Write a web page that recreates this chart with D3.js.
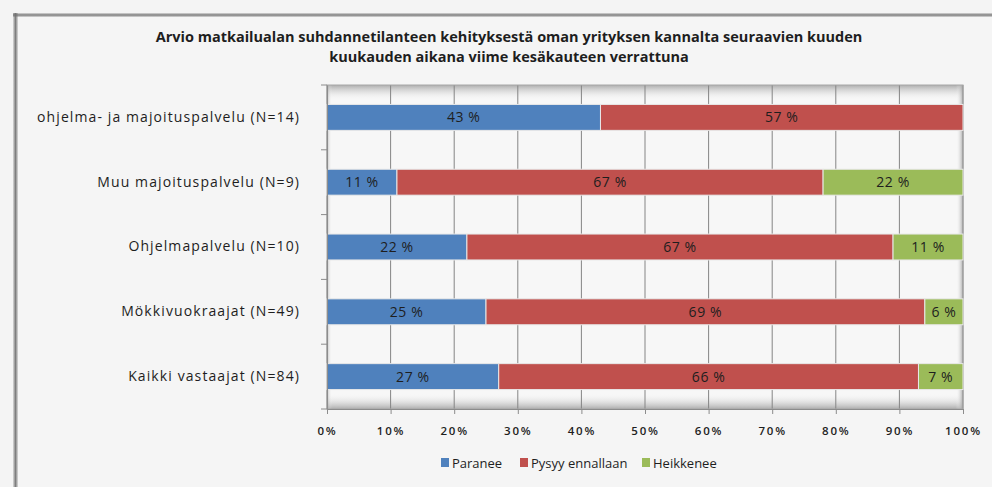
<!DOCTYPE html>
<html>
<head>
<meta charset="utf-8" />
<title>suhdannetilanne</title>
<script src="https://cdn.jsdelivr.net/npm/d3@7"></script>
<style>
  body { margin:0; background:#f4f4f4; }
  text { font-family:"Open Sans", sans-serif; fill:#1e1e1e; }
</style>
</head>
<body>
<svg width="992" height="487"></svg>
<script>
var categories = ["ohjelma- ja majoituspalvelu (N=14)", "Muu majoituspalvelu (N=9)", "Ohjelmapalvelu (N=10)", "Mökkivuokraajat (N=49)", "Kaikki vastaajat (N=84)"]
var paranee = [43, 11, 22, 25, 27]
var pysyy = [57, 67, 67, 69, 66]
var heikkenee = [0, 22, 11, 6, 7]
var seriesNames = ["Paranee", "Pysyy ennallaan", "Heikkenee"]
var colors = ["#4f81bd", "#c0504d", "#9bbb59"]
var xTicks = [0, 10, 20, 30, 40, 50, 60, 70, 80, 90, 100]
var titleLines = ["Arvio matkailualan suhdannetilanteen kehityksestä oman yrityksen kannalta seuraavien kuuden",
                  "kuukauden aikana viime kesäkauteen verrattuna"]

var svg = d3.select("svg")
var defs = svg.append("defs")

// varjoliukuvärit kehyksille
function grad(id, x1, y1, x2, y2, stops) {
  var g = defs.append("linearGradient").attr("id", id)
    .attr("x1", x1).attr("y1", y1).attr("x2", x2).attr("y2", y2)
  stops.forEach(s => g.append("stop").attr("offset", s[0]).attr("stop-color", s[1]).attr("stop-opacity", s[2]))
}
grad("shH", 0, 0, 1, 0, [[0, "#707070", 0.2], [0.5, "#707070", 0.9], [1, "#707070", 0.2]])
grad("shV", 0, 0, 0, 1, [[0, "#707070", 0.2], [0.5, "#707070", 0.9], [1, "#707070", 0.2]])
grad("inTop", 0, 0, 0, 1, [[0, "#9a9a9a", 0.8], [1, "#ffffff", 0]])
grad("inBot", 0, 1, 0, 0, [[0, "#9a9a9a", 0.8], [1, "#ffffff", 0]])
grad("inLeft", 0, 0, 1, 0, [[0, "#9a9a9a", 0.6], [1, "#ffffff", 0]])
grad("inRight", 1, 0, 0, 0, [[0, "#9a9a9a", 0.8], [1, "#ffffff", 0]])

// ulkokehys
svg.append("rect").attr("x", 15).attr("y", 15).attr("width", 990).attr("height", 490).attr("fill", "#f5f5f5")
svg.append("rect").attr("x", 13).attr("y", 13).attr("width", 5).attr("height", 480).attr("fill", "url(#shH)")
svg.append("rect").attr("x", 13).attr("y", 13).attr("width", 990).attr("height", 4).attr("fill", "url(#shV)")

// otsikko
svg.append("g").selectAll("text").data(titleLines).enter().append("text")
  .attr("x", 509).attr("y", (d, i) => 42 + i * 20)
  .attr("text-anchor", "middle").attr("font-size", "14.5px").attr("font-weight", "bold")
  .text(d => d)

var plot = {left:327, right:963, top:85, bottom:409}

var xScale = d3.scaleLinear().domain([0, 100]).range([plot.left, plot.right])
var yScale = d3.scaleBand().domain(categories).range([plot.top, plot.bottom]).paddingInner(0.6).paddingOuter(0.3)

// piirtoalueen tausta
var g = svg.append("g")
g.append("rect").attr("x", plot.left).attr("y", plot.top).attr("width", plot.right - plot.left).attr("height", plot.bottom - plot.top)
  .attr("fill", "#f7f7f7")
g.append("rect").attr("x", plot.left).attr("y", plot.top).attr("width", plot.right - plot.left).attr("height", 16).attr("fill", "url(#inTop)")
g.append("rect").attr("x", plot.left).attr("y", plot.bottom - 16).attr("width", plot.right - plot.left).attr("height", 16).attr("fill", "url(#inBot)")
g.append("rect").attr("x", plot.left).attr("y", plot.top).attr("width", 5).attr("height", plot.bottom - plot.top).attr("fill", "url(#inLeft)")
g.append("rect").attr("x", plot.right - 7).attr("y", plot.top).attr("width", 7).attr("height", plot.bottom - plot.top).attr("fill", "url(#inRight)")

// pystysuorat apuviivat
g.append("g").selectAll("line").data(xTicks).enter().append("line")
  .attr("x1", d => xScale(d)).attr("x2", d => xScale(d))
  .attr("y1", plot.top).attr("y2", plot.bottom)
  .attr("stroke", "#858585").attr("stroke-width", 1)

g.append("rect").attr("x", plot.left).attr("y", plot.top).attr("width", plot.right - plot.left).attr("height", plot.bottom - plot.top)
  .attr("fill", "none").attr("stroke", "#a8a8a8").attr("stroke-width", 1)

// pinotut pylväät
var rows = categories.map((c, i) => ({cat:c, Paranee:paranee[i], "Pysyy ennallaan":pysyy[i], Heikkenee:heikkenee[i]}))
var stacked = d3.stack().keys(seriesNames)(rows)

var layers = g.selectAll(".layer").data(stacked).enter().append("g")
  .attr("class", "layer").attr("fill", (d, i) => colors[i])

layers.selectAll("rect").data(d => d.filter(s => s[1] - s[0] > 0)).enter().append("rect")
  .attr("x", d => xScale(d[0]))
  .attr("y", d => yScale(d.data.cat))
  .attr("width", d => xScale(d[1]) - xScale(d[0]))
  .attr("height", yScale.bandwidth())
  .attr("stroke", "#e8e8e8").attr("stroke-width", 1)

layers.selectAll("text").data(d => d.filter(s => s[1] - s[0] > 0)).enter().append("text")
  .attr("x", d => (xScale(d[0]) + xScale(d[1])) / 2)
  .attr("y", d => yScale(d.data.cat) + yScale.bandwidth() / 2)
  .attr("dy", "0.36em")
  .attr("text-anchor", "middle").attr("font-size", "14px").attr("letter-spacing", "0.6px")
  .text(d => (d[1] - d[0]) + " %")

// x-akseli
var xAxis = d3.axisBottom(xScale).tickValues(xTicks).tickSize(5).tickFormat(d => d + "%")
var xg = g.append("g").attr("transform", `translate(0,${plot.bottom})`).call(xAxis)
xg.select(".domain").attr("stroke", "#8c8c8c")
xg.selectAll(".tick line").attr("stroke", "#8c8c8c")
xg.selectAll(".tick text").attr("y", 18).attr("font-size", "11.5px").attr("font-weight", "600")
  .attr("letter-spacing", "1.8px").style("font-family", "Open Sans, sans-serif").attr("fill", "#333")

// y-akseli
var yAxis = d3.axisLeft(yScale).tickSize(0).tickPadding(27)
var yg = g.append("g").attr("transform", `translate(${plot.left},0)`).call(yAxis)
yg.select(".domain").attr("stroke", "#8c8c8c")
yg.selectAll(".tick text").attr("font-size", "14px").attr("letter-spacing", "1.1px")
  .style("font-family", "Open Sans, sans-serif").attr("fill", "#1e1e1e")
var step = yScale.step()
var bounds = d3.range(categories.length + 1).map(i => plot.top + i * step)
yg.append("g").selectAll("line").data(bounds).enter().append("line")
  .attr("x1", -6).attr("x2", 0).attr("y1", d => d).attr("y2", d => d)
  .attr("stroke", "#8c8c8c")

// selite
var legendX = [441, 520, 642]
var lg = svg.append("g").selectAll("g").data(seriesNames).enter().append("g")
  .attr("transform", (d, i) => `translate(${legendX[i]},463)`)
lg.append("rect").attr("x", 0).attr("y", -5).attr("width", 8).attr("height", 9).attr("fill", (d, i) => colors[i])
lg.append("text").attr("x", 11).attr("dy", "0.35em").attr("font-size", "13px").text(d => d)
</script>
</body>
</html>
